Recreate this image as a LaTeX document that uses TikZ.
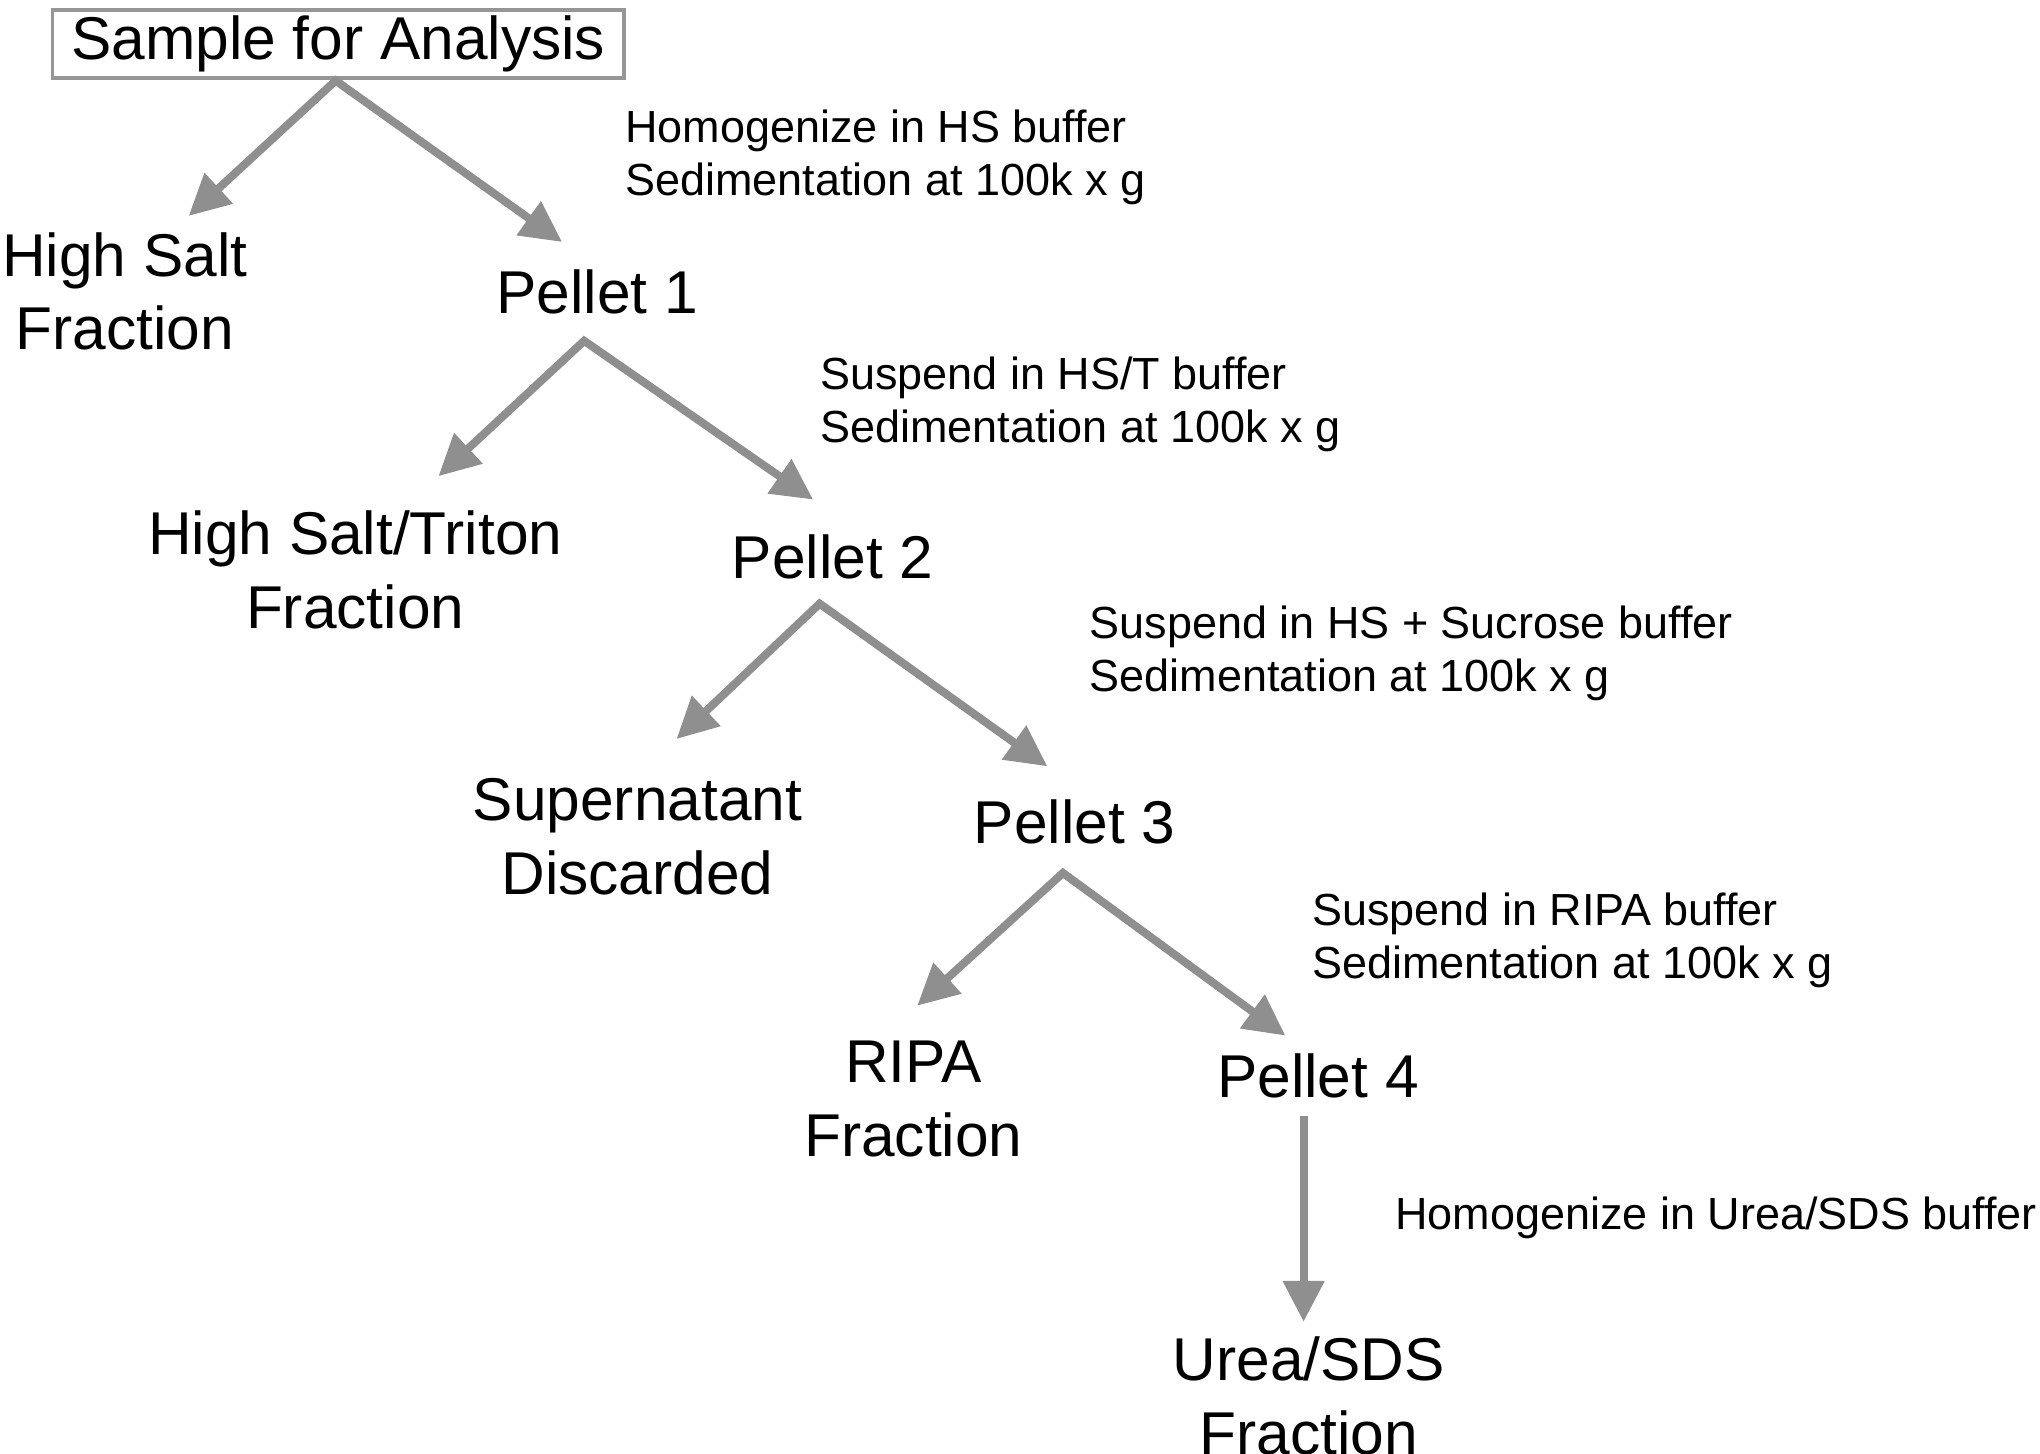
\documentclass[tikz,border=0pt]{standalone}
\usepackage{fontspec}
\setmainfont{Liberation Sans}
\usetikzlibrary{arrows.meta}
\definecolor{arrgray}{RGB}{143,143,143}
\definecolor{boxgray}{RGB}{150,150,150}
\begin{document}
\begin{tikzpicture}[x=0.01301cm,y=-0.01301cm,
  big/.style={font=\fontsize{17.2}{21}\selectfont, align=center, inner sep=0pt},
  small/.style={font=\fontsize{12.8}{15.1}\selectfont, align=left, anchor=west, inner sep=0pt},
  flow/.style={draw=arrgray, line width=2.3pt, {Triangle[length=0.41cm,width=0.40cm]}-{Triangle[length=0.41cm,width=0.40cm]}, line join=miter},
  down/.style={draw=arrgray, line width=2.3pt, -{Triangle[length=0.41cm,width=0.40cm]}}]
\useasboundingbox (0,0) rectangle (1568,1117);

% nodes
\node[big, draw=boxgray, line width=1pt, minimum width=5.72cm, minimum height=0.68cm] (s) at (260,34) {\raisebox{-1.5pt}{Sample for Analysis}};
\node[big] (hs) at (96,224) {High Salt\\Fraction};
\node[big] (p1) at (459,224) {Pellet 1};
\node[big] (hst) at (273,438) {High Salt/Triton\\Fraction};
\node[big] (p2) at (640,428) {Pellet 2};
\node[big] (sd) at (490,643) {Supernatant\\Discarded};
\node[big] (p3) at (826,632) {Pellet 3};
\node[big] (ripa) at (702,845) {RIPA\\Fraction};
\node[big] (p4) at (1013,827) {Pellet 4};
\node[big] (us) at (1006,1073) {Urea/SDS\\Fraction};

% step labels
\node[small] (l1) at (480,121) {Homogenize in HS buffer\\Sedimentation at 100k x g};
\node[small] (l2) at (630,311) {Suspend in HS/T buffer\\Sedimentation at 100k x g};
\node[small] (l3) at (837,502) {Suspend in HS + Sucrose buffer\\Sedimentation at 100k x g};
\node[small] (l4) at (1008,723) {Suspend in RIPA buffer\\Sedimentation at 100k x g};
\node[small] (l5) at (1072,936) {Homogenize in Urea/SDS buffer};

% branch points and arrow tips
\coordinate (a1) at (258,62);  \coordinate (t1l) at (145,166); \coordinate (t1r) at (432,186);
\coordinate (a2) at (449,262); \coordinate (t2l) at (337,366); \coordinate (t2r) at (625,384);
\coordinate (a3) at (630,464); \coordinate (t3l) at (520,568); \coordinate (t3r) at (805,589);
\coordinate (a4) at (817,671); \coordinate (t4l) at (705,773); \coordinate (t4r) at (988,796);
\coordinate (a5) at (1002,858); \coordinate (t5) at (1002,1016);

\draw[flow] (t1l) -- (a1) -- (t1r);
\draw[flow] (t2l) -- (a2) -- (t2r);
\draw[flow] (t3l) -- (a3) -- (t3r);
\draw[flow] (t4l) -- (a4) -- (t4r);
\draw[down] (a5) -- (t5);
\end{tikzpicture}
\end{document}
